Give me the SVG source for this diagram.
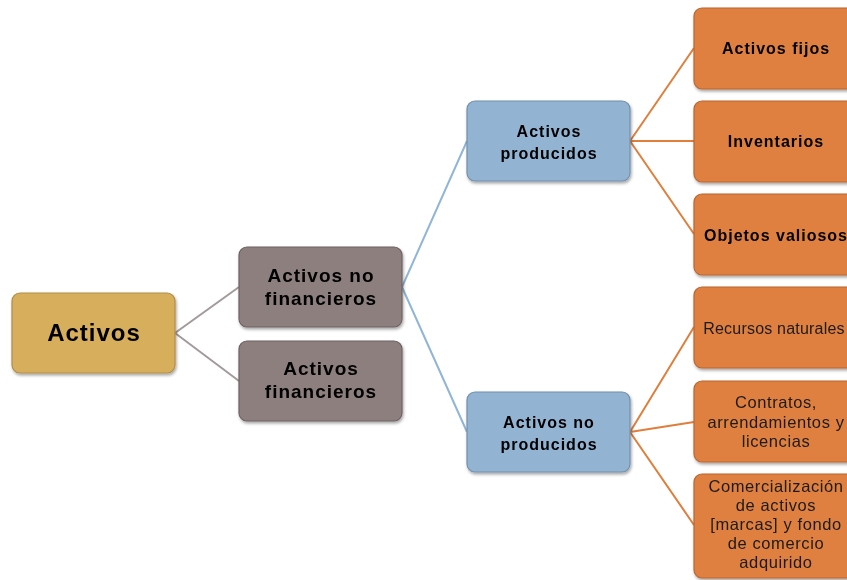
<svg xmlns="http://www.w3.org/2000/svg" width="847" height="580" viewBox="0 0 847 580">
<style>
.box{stroke-width:1.2}
.gold{fill:#D7AE5C;stroke:#B08E48}
.mauve{fill:#8E7F7F;stroke:#6F6262}
.blue{fill:#93B3D2;stroke:#7390AC}
.orange{fill:#E0803F;stroke:#B96630}
.t{font-family:"Liberation Sans",Arial,sans-serif;font-weight:bold;fill:#000;text-anchor:middle;letter-spacing:1px}
.r{font-family:"Liberation Sans",Arial,sans-serif;fill:#1a1a1a;text-anchor:middle;font-size:16.5px;letter-spacing:0.6px}
.c{fill:none;stroke-width:2}
</style>
<defs>
<filter id="sh" x="-10%" y="-10%" width="125%" height="130%">
<feDropShadow dx="1" dy="2" stdDeviation="1.5" flood-color="#000" flood-opacity="0.35"/>
</filter>
</defs>
<rect width="847" height="580" fill="#fff"/>
<g id="connectors">
<path class="c" stroke="#A39A9A" d="M175 333 L239 287 M175 333 L239 381"/>
<path class="c" stroke="#91B5D7" d="M402 287 L467 141 M402 287 L467 432"/>
<path class="c" stroke="#E07E3C" d="M630 141 L694 48 M630 141 L694 141 M630 141 L694 234 M630 432 L694 327 M630 432 L694 422 M630 432 L694 525"/>
</g>
<g id="n-activos" filter="url(#sh)">
<rect class="box gold" x="12" y="293" width="163" height="80" rx="8"/>
<text class="t" x="94" y="341" font-size="24">Activos</text>
</g>
<g id="n-no-financieros" filter="url(#sh)">
<rect class="box mauve" x="239" y="247" width="163" height="80" rx="8"/>
<text class="t" x="321" y="282" font-size="19">Activos no</text>
<text class="t" x="321" y="305" font-size="19">financieros</text>
</g>
<g id="n-financieros" filter="url(#sh)">
<rect class="box mauve" x="239" y="341" width="163" height="80" rx="8"/>
<text class="t" x="321" y="375" font-size="19">Activos</text>
<text class="t" x="321" y="398" font-size="19">financieros</text>
</g>
<g id="n-producidos" filter="url(#sh)">
<rect class="box blue" x="467" y="101" width="163" height="80" rx="8"/>
<text class="t" x="549" y="137" font-size="16">Activos</text>
<text class="t" x="549" y="159" font-size="16">producidos</text>
</g>
<g id="n-no-producidos" filter="url(#sh)">
<rect class="box blue" x="467" y="392" width="163" height="80" rx="8"/>
<text class="t" x="549" y="428" font-size="16">Activos no</text>
<text class="t" x="549" y="450" font-size="16">producidos</text>
</g>
<g id="n-fijos" filter="url(#sh)">
<rect class="box orange" x="694" y="8" width="163" height="81" rx="8"/>
<text class="t" x="776" y="54" font-size="16">Activos fijos</text>
</g>
<g id="n-inventarios" filter="url(#sh)">
<rect class="box orange" x="694" y="101" width="163" height="81" rx="8"/>
<text class="t" x="776" y="147" font-size="16">Inventarios</text>
</g>
<g id="n-valiosos" filter="url(#sh)">
<rect class="box orange" x="694" y="194" width="163" height="81" rx="8"/>
<text class="t" x="776" y="241" font-size="16">Objetos valiosos</text>
</g>
<g id="n-recursos" filter="url(#sh)">
<rect class="box orange" x="694" y="287" width="163" height="81" rx="8"/>
<text class="r" x="774" y="334" style="font-size:16px;letter-spacing:0.2px">Recursos naturales</text>
</g>
<g id="n-contratos" filter="url(#sh)">
<rect class="box orange" x="694" y="381" width="163" height="81" rx="8"/>
<text class="r" x="776" y="408">Contratos,</text>
<text class="r" x="776" y="428">arrendamientos y</text>
<text class="r" x="776" y="447">licencias</text>
</g>
<g id="n-comercializacion" filter="url(#sh)">
<rect class="box orange" x="694" y="474" width="163" height="104" rx="8"/>
<text class="r" x="776" y="492">Comercialización</text>
<text class="r" x="776" y="511">de activos</text>
<text class="r" x="776" y="530">[marcas] y  fondo</text>
<text class="r" x="776" y="549">de comercio</text>
<text class="r" x="776" y="568">adquirido</text>
</g>
</svg>
